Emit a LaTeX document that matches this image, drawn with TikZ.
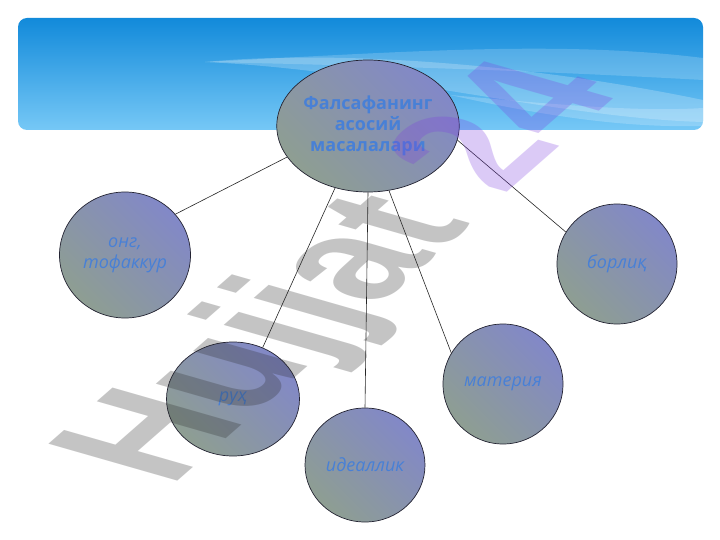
\documentclass[tikz,border=0pt]{standalone}
\usepackage{fontspec}
\setmainfont{Open Sans}
\newfontfamily\wmfont{Liberation Sans}
\usetikzlibrary{shapes.geometric}
\definecolor{bantop}{RGB}{18,138,218}
\definecolor{banbot}{RGB}{118,200,246}
\definecolor{fillA}{RGB}{142,158,146}
\definecolor{fillB}{RGB}{130,136,200}
\definecolor{txtblue}{RGB}{72,128,214}
\definecolor{edge}{RGB}{35,35,50}
\definecolor{wmgray}{RGB}{40,40,40}
\definecolor{wmviolet}{RGB}{125,60,225}
\tikzset{
  bub/.style={circle, draw=edge, line width=0.7pt, inner sep=0pt,
    bottom color=fillA, top color=fillB, shading angle=-45,
    text=txtblue, font=\fontsize{18}{21}\selectfont\itshape, align=center},
  conn/.style={draw=black!85, line width=0.6pt}
}
\begin{document}
\begin{tikzpicture}[x=1pt,y=-1pt]
\useasboundingbox (0,0) rectangle (720,540);
\fill[white] (0,0) rectangle (720,540);
% banner
\shade[top color=bantop, bottom color=banbot, rounded corners=9pt]
  (18,18) rectangle (703,130);
\begin{scope}
\clip[rounded corners=9pt] (18,18) rectangle (703,130);
\fill[white, opacity=0.22] (205,62) .. controls (330,50) and (520,62) .. (703,100)
  -- (703,122) .. controls (560,118) and (380,70) .. (205,62) -- cycle;
\fill[white, opacity=0.18] (205,62) .. controls (400,52) and (560,40) .. (703,58)
  -- (703,80) .. controls (560,72) and (400,66) .. (205,62) -- cycle;
\fill[white, opacity=0.2] (450,95) .. controls (560,105) and (640,112) .. (703,108)
  -- (703,126) .. controls (620,128) and (540,115) .. (450,95) -- cycle;
\end{scope}
% nodes
\node[bub, shape=ellipse, minimum width=176pt, minimum height=132pt,
  font=\fontsize{18}{21}\selectfont\bfseries] (c) at (368,126)
  {Фалсафанинг\\асосий\\масалалари};
\node[bub, ellipse, minimum width=131pt, minimum height=126pt] (o) at (125,255) {онг,\\тофаккур};
\node[bub, minimum size=120pt] (b) at (617,264) {борлиқ};
\node[bub, minimum size=120pt] (m) at (503,384) {материя};
\node[bub, ellipse, minimum width=133pt, minimum height=114pt] (r) at (233,399) {руҳ};
\node[bub, ellipse, minimum width=120pt, minimum height=114pt] (i) at (365,465) {идеаллик};
% connectors
\draw[conn] (c.201) -- (o.39);
\draw[conn] (c.-9) -- (b.148);
\draw[conn] (c.242) -- (r.60);
\draw[conn] (c.270) -- (i.90);
\draw[conn] (c.288) -- (m.149);
% watermark
\begin{scope}[cm={1.09,0.955,-1.874,0.537,(170,488)}]
\node[transform shape, anchor=base west, inner sep=0pt, text opacity=0.27,
  font=\wmfont\bfseries\fontsize{100}{100}\selectfont] (wm) at (0,0)
  {\textcolor{wmgray}{Hujjat} \textcolor{wmviolet}{24}};
\end{scope}
\end{tikzpicture}
\end{document}
